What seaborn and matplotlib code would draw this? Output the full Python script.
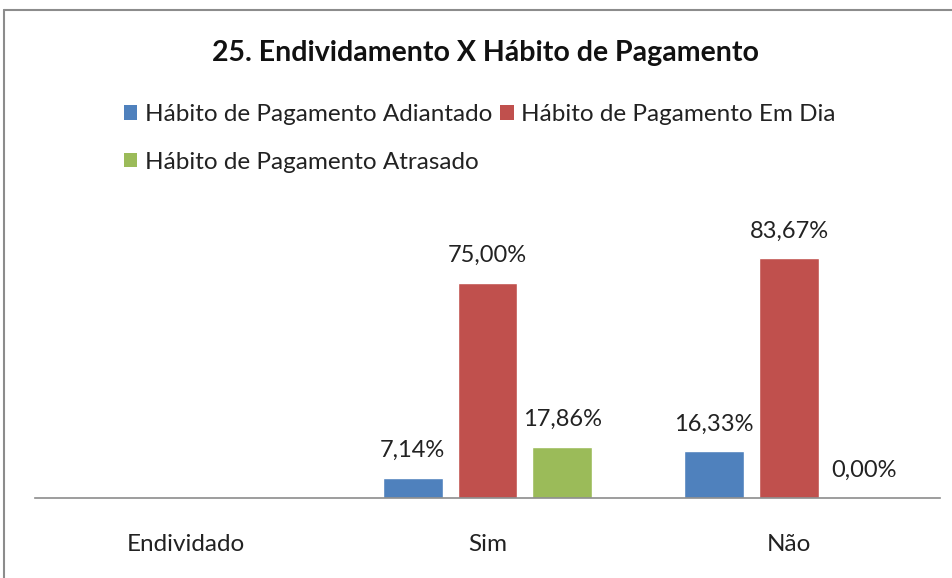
import matplotlib
matplotlib.use('Agg')
import matplotlib.pyplot as plt
from matplotlib.lines import Line2D
from matplotlib.patches import Patch
import seaborn as sns
import pandas as pd

# dados
categorias = ['Endividado', 'Sim', 'Não']
series = ['Hábito de Pagamento Adiantado', 'Hábito de Pagamento Em Dia', 'Hábito de Pagamento Atrasado']
sim = [7.14, 75.00, 17.86]
nao = [16.33, 83.67, 0.00]
cores = ['#4F81BD', '#C0504D', '#9BBB59']

sns.set_style("white")
plt.rcParams['font.family'] = ['Lato', 'DejaVu Sans']

rows = []
for s, v1, v2 in zip(series, sim, nao):
    rows.append({'cat': 'Sim', 'serie': s, 'valor': v1})
    rows.append({'cat': 'Não', 'serie': s, 'valor': v2})
df = pd.DataFrame(rows)

fig = plt.figure(figsize=(9.53, 5.78), dpi=100)
ax = fig.add_axes([35 / 953, 80 / 578, 905 / 953, 258 / 578])

sns.barplot(data=df, x='cat', y='valor', hue='serie', order=categorias,
            hue_order=series, palette=cores, width=0.745, gap=0.2,
            saturation=1, ax=ax, legend=False)

for cont, s in zip(ax.containers, series):
    vals = [v for v in df[df['serie'] == s]['valor']]
    labels = [f'{v:.2f}'.replace('.', ',') + '%' for v in vals]
    ax.bar_label(cont, labels=labels, padding=12, fontsize=17, color='#222222')

ax.set_ylim(0, 90)
ax.set_xlim(-0.5, 2.5)
ax.set_xlabel('')
ax.set_ylabel('')
ax.set_yticks([])
for sp in ['top', 'right', 'left']:
    ax.spines[sp].set_visible(False)
ax.spines['bottom'].set_color('#8c8c8c')
ax.spines['bottom'].set_linewidth(1.2)
ax.tick_params(axis='x', length=0, pad=26, labelsize=17.5, labelcolor='#222222')
ax.set_facecolor('none')

# título
fig.text(486 / 953, 1 - 53 / 578, '25. Endividamento X Hábito de Pagamento',
         ha='center', va='center', fontsize=20.5, fontweight='bold', color='#111111')

# legenda (ordem por linha)
handles = [Patch(facecolor=c, edgecolor='none') for c in cores]
order = [0, 2, 1]
fig.legend([handles[i] for i in order], [series[i] for i in order],
           ncol=2, loc='upper left', bbox_to_anchor=(102 / 953, 1 - 82 / 578),
           frameon=False, fontsize=17.5, handlelength=0.55, handleheight=0.55,
           handletextpad=0.3, columnspacing=0.35, labelspacing=1.1,
           labelcolor='#222222')

# moldura
fig.add_artist(Line2D([4 / 953, 4 / 953], [0, 1 - 10 / 578], color='#8c8c8c', lw=1.5))
fig.add_artist(Line2D([4 / 953, 1], [1 - 10 / 578, 1 - 10 / 578], color='#8c8c8c', lw=1.5))

plt.savefig('out.png', dpi=100)
plt.close()
